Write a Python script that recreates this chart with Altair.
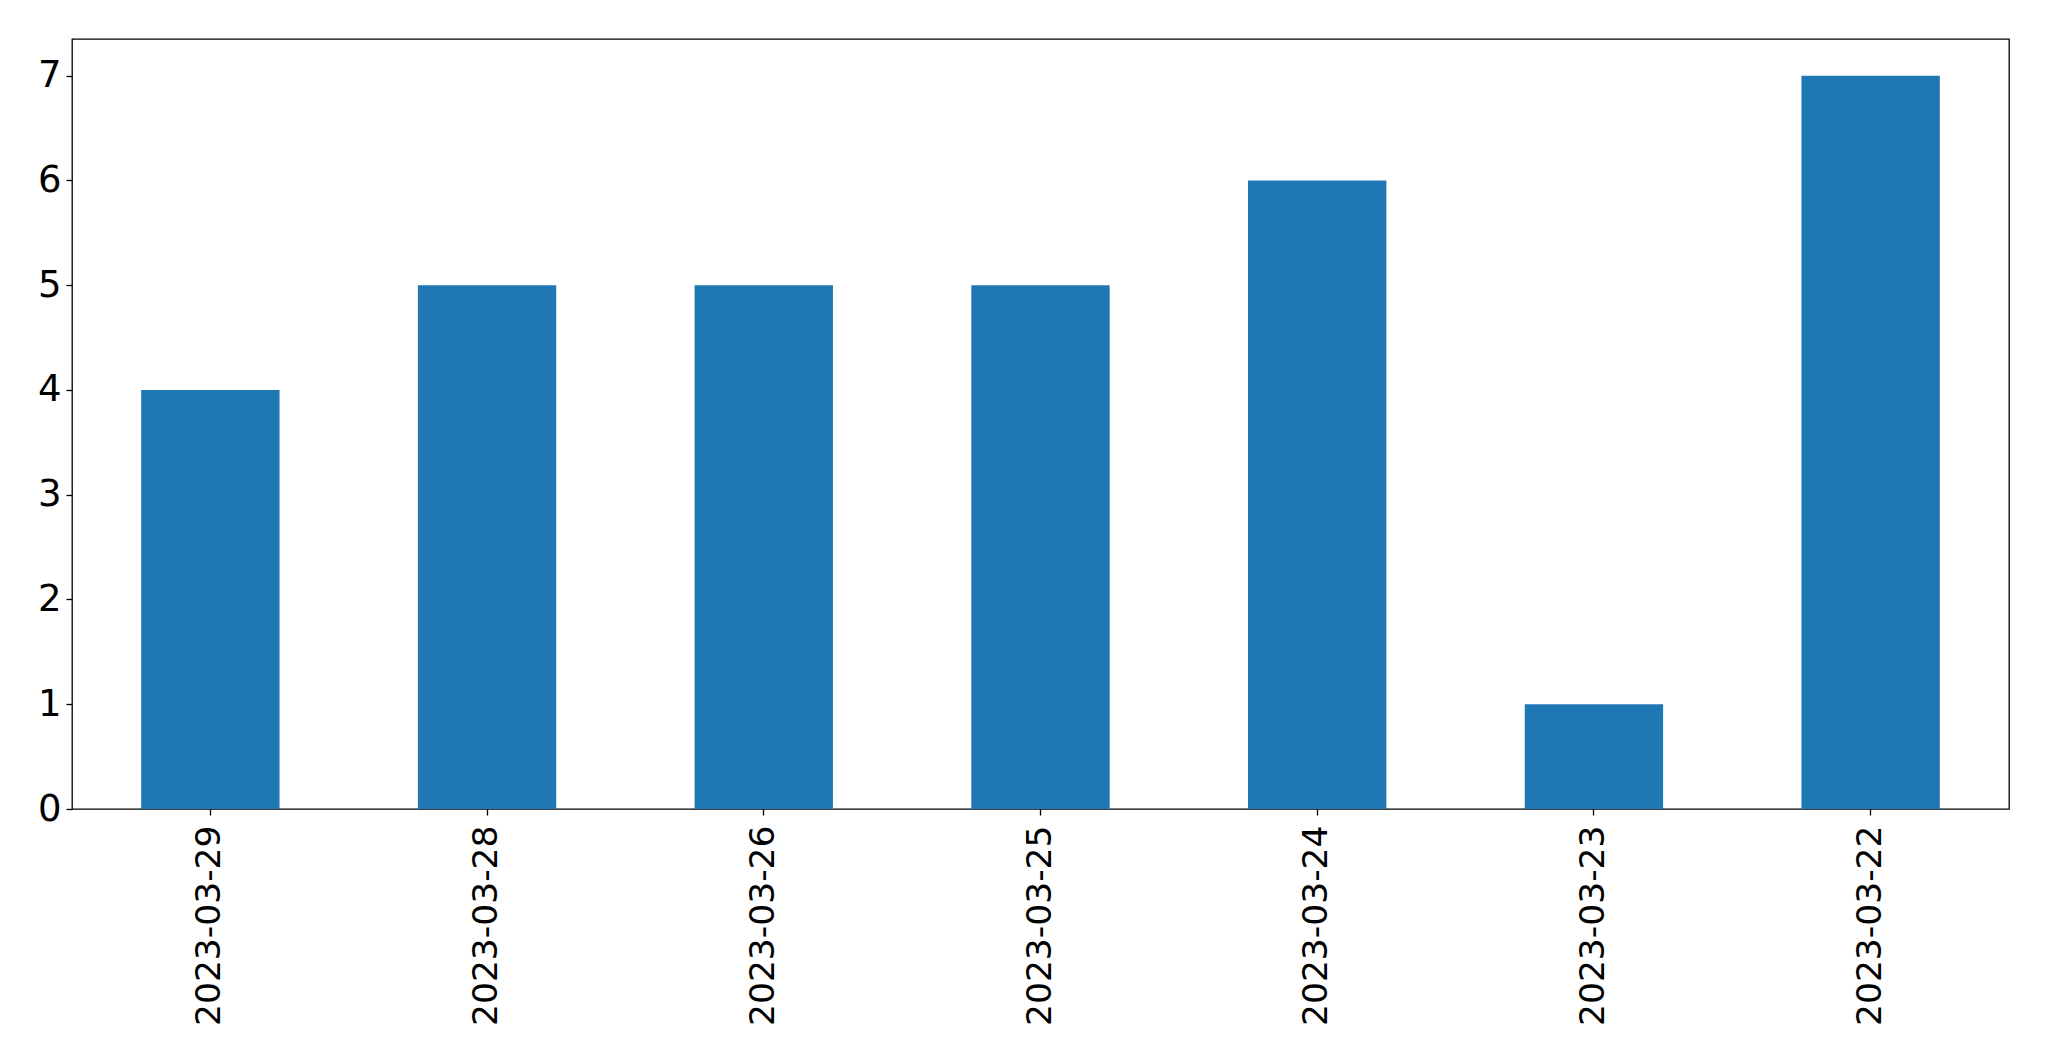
import altair as alt
import pandas as pd

dates = ["2023-03-29", "2023-03-28", "2023-03-26", "2023-03-25", "2023-03-24", "2023-03-23", "2023-03-22"]
counts = [4, 5, 5, 5, 6, 1, 7]
y_ticks = [0, 1, 2, 3, 4, 5, 6, 7]

df = pd.DataFrame({"date": dates, "count": counts})

FONT = "DejaVu Sans"

chart = alt.Chart(df).mark_bar(color="#1f77b4").encode(
    x=alt.X("date:N", sort=dates, title=None,
            scale=alt.Scale(paddingInner=0.5, paddingOuter=0.25),
            axis=alt.Axis(labelAngle=270, labelFont=FONT, labelFontSize=34.5, labelColor="black",
                          tickColor="black", tickSize=6, tickWidth=1.3, labelPadding=10,
                          labelLimit=0, domain=False, labelAlign="right", labelBaseline="middle")),
    y=alt.Y("count:Q", title=None,
            scale=alt.Scale(domain=[0, 7.35], nice=False, zero=True),
            axis=alt.Axis(values=y_ticks, format="d", grid=False, labelFont=FONT, labelFontSize=37,
                          labelColor="black", tickColor="black", tickSize=6, tickWidth=1.3,
                          labelPadding=5, domain=False)),
).properties(
    width=1937, height=770,
    background="white",
    autosize=alt.AutoSizeParams(type="none"),
    padding={"left": 64, "top": 31, "right": 32, "bottom": 230},
).configure_view(
    stroke="black", strokeWidth=1.3
)

chart.save("out.html", embed_options={"renderer": "svg", "actions": False})
